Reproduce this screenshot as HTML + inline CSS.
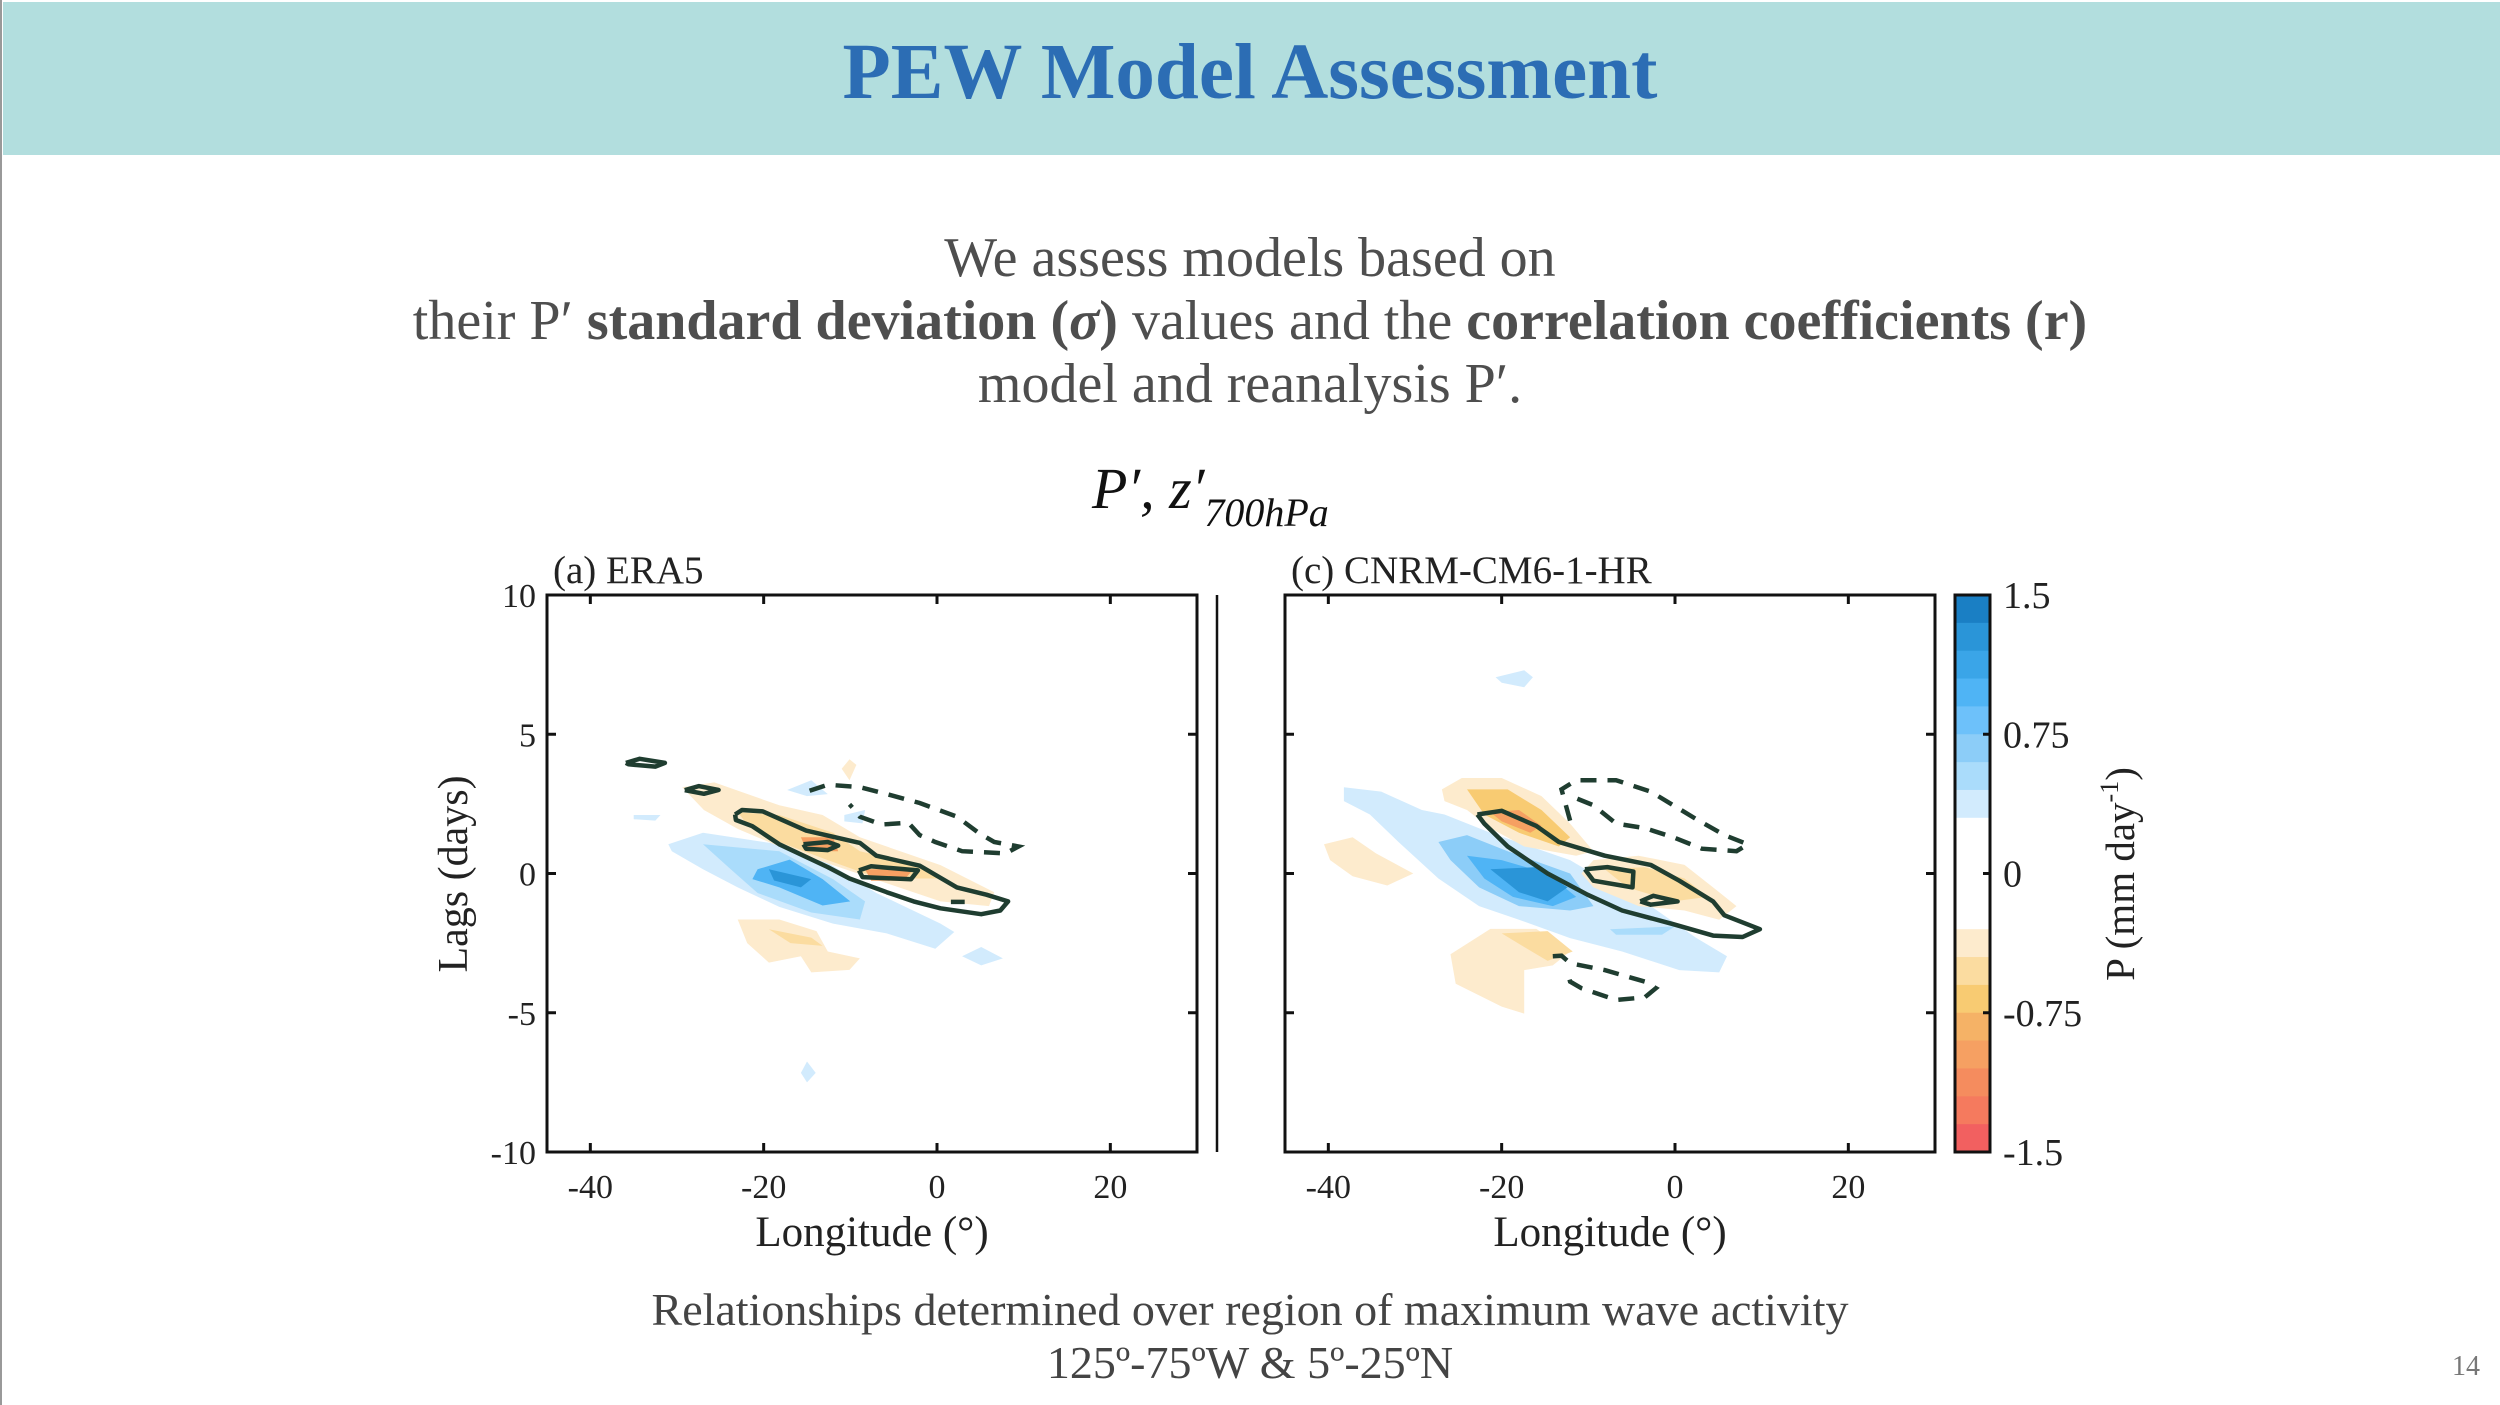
<!DOCTYPE html>
<html><head><meta charset="utf-8"><style>
html,body{margin:0;padding:0;background:#fff;}
body{width:2500px;height:1405px;position:relative;overflow:hidden;font-family:"Liberation Serif",serif;}
#hdr{position:absolute;left:3px;top:2px;width:2497px;height:153px;background:#b2dede;}
#ttl{position:absolute;left:0;width:2500px;top:28px;text-align:center;font-size:79px;font-weight:bold;color:#2c6db4;}
.bt{position:absolute;left:0;width:2500px;text-align:center;font-size:56px;color:#4e4e4e;}
#frame{position:absolute;left:0;top:0;width:2px;height:1405px;background:#999;}
</style></head><body>
<div id="frame"></div>
<div id="hdr"></div>
<div id="ttl">PEW Model Assessment</div>
<div class="bt" style="top:226px">We assess models based on</div>
<div class="bt" style="top:289px">their P′ <b>standard deviation (<i>σ</i>)</b> values and the <b>correlation coefficients (r)</b></div>
<div class="bt" style="top:352px">model and reanalysis P′.</div>
<svg id="fig" width="2500" height="1405" style="position:absolute;left:0;top:0" font-family="Liberation Serif, serif">
<text x="1092" y="508" font-size="58" font-style="italic" fill="#111">P′, z′<tspan font-size="40" dy="18">700hPa</tspan></text>
<text x="1250" y="1325" font-size="46" fill="#444" text-anchor="middle">Relationships determined over region of maximum wave activity</text>
<text x="1250" y="1378" font-size="46" fill="#444" text-anchor="middle">125º-75ºW &amp; 5º-25ºN</text>
<text x="2466" y="1375" font-size="28" fill="#777" text-anchor="middle">14</text>
<line x1="1217" y1="595" x2="1217" y2="1152" stroke="#111" stroke-width="2.5"/>
<g id="gA"></g><g id="gC"></g><g id="gCB"></g>
</svg>
<script>
const NS="http://www.w3.org/2000/svg";
const xTicks=[-40,-20,0,20];
const yTicks=[-10,-5,0,5,10];
const cbLevels=[1.5,1.35,1.2,1.05,0.9,0.75,0.6,0.45,0.3,0.15,0,-0.15,-0.3,-0.45,-0.6,-0.75,-0.9,-1.05,-1.2,-1.35,-1.5];
const cbTickLabels=["1.5","0.75","0","-0.75","-1.5"];
const cbTickValues=[1.5,0.75,0,-0.75,-1.5];
const blueCols=["#1a7fc4","#2a95d8","#3aa5e8","#4fb4f5","#6dc1fa","#8ccdf8","#aadcfb","#d2ebfd"];
const orangeCols=["#fdebcd","#fbdca0","#f8cb72","#f5b266","#f6a062","#f58c5e","#f57a5e","#f26060"];
function colorFor(v){
  if(Math.abs(v)<0.3) return "#ffffff";
  const i=Math.min(7,Math.floor((Math.abs(v)-0.3)/0.15));
  return v>0?blueCols[7-i]:orangeCols[i];
}
// Panel (a) ERA5 filled precipitation anomalies: [level, [lon,lag]...]
const fillsA=[
 [0.35,[[-31,1.05],[-27,1.46],[-18.2,1.05],[-13.2,0.5],[-7,-0.7],[0.4,-1.8],[2,-2.1],[-0.2,-2.7],[-5.8,-2.15],[-12,-1.8],[-18.2,-1.2],[-23,-0.5],[-27,0.15],[-30.6,0.8]]],
 [0.55,[[-27,1.05],[-18.2,0.8],[-12,-0.2],[-8.3,-1],[-8.9,-1.65],[-14.5,-1.4],[-20.7,-0.7],[-23.8,0.15]]],
 [0.9,[[-20.7,0.15],[-17,0.5],[-13.2,-0.2],[-10,-1],[-13.2,-1.15],[-18.2,-0.5],[-21.3,-0.2]]],
 [1.25,[[-19.4,0.15],[-14.5,-0.2],[-15.7,-0.5],[-18.8,-0.25]]],
 [0.35,[[-35,2.1],[-31.9,2.1],[-32.5,1.9],[-35,1.95]]],
 [0.4,[[-17.3,3],[-14.5,3.35],[-12.6,2.85],[-15,2.78]]],
 [0.4,[[-10.7,2.1],[-8.3,2.28],[-8.6,1.8],[-10.7,1.87]]],
 [0.35,[[2.9,-2.97],[5.1,-2.64],[7.6,-3.05],[5.1,-3.3]]],
 [0.35,[[-15.7,-7.16],[-15,-6.75],[-14,-7.16],[-15,-7.5]]],
 [-0.35,[[-11,3.76],[-10.1,4.1],[-9.3,3.9],[-10.1,3.35]]],
 [-0.35,[[-29.4,3.1],[-25.7,3.27],[-18.2,2.45],[-13.2,2.1],[-8.9,1.3],[0.4,0.3],[6.6,-0.67],[6,-1.17],[0.4,-1],[-5.8,-0.35],[-12,0.3],[-18.2,0.97],[-23,1.6],[-26.9,2.28]]],
 [-0.55,[[-23,2.2],[-18.2,2.1],[-12,1.46],[-8.9,0.8],[-2,0.3],[0.4,-0.18],[-3.3,-0.18],[-8.3,0],[-12.6,0.48],[-18.2,1.13],[-22,1.8]]],
 [-0.95,[[-15.7,1.3],[-12,1.3],[-11.4,0.8],[-15,0.8]]],
 [-0.95,[[-8.3,0.15],[-2.7,0.15],[-3.9,-0.26],[-7.6,-0.26]]],
 [-0.35,[[-23,-1.65],[-18.2,-1.65],[-13.9,-2.07],[-12.6,-2.8],[-8.9,-3.05],[-10.1,-3.46],[-14.5,-3.55],[-15.7,-2.97],[-19.4,-3.2],[-21.9,-2.5]]],
 [-0.5,[[-19.4,-2],[-14.5,-2.3],[-13.2,-2.6],[-16.9,-2.5]]]
];
const solidA=[
 [[-35.9,3.97],[-34.3,4.12],[-31.4,3.97],[-32.5,3.84],[-35.6,3.92],[-35.9,3.97]],
 [[-29.1,2.99],[-27.5,3.14],[-25.2,3.0],[-26.9,2.86],[-29.1,2.99]],
 [[-23.3,2.12],[-22.5,2.28],[-20.1,2.23],[-15.1,1.54],[-8.9,1.1],[-7,0.64],[-2,0.28],[2.3,-0.5],[5.7,-0.76],[8.2,-1],[7.3,-1.33],[5.1,-1.46],[0.4,-1.25],[-2.7,-1],[-5.8,-0.67],[-10.1,-0.18],[-12.6,0.23],[-18.2,1.05],[-21.3,1.7],[-23.2,1.92],[-23.3,2.12]],
 [[-15.4,1.05],[-12.6,1.13],[-11.4,1.0],[-12.6,0.84],[-15.1,0.89],[-15.4,1.05]],
 [[-9,0.11],[-7.6,0.26],[-2.2,0.11],[-3,-0.21],[-8.6,-0.13],[-9,0.11]],
 [[1.6,-1.02],[3.2,-1.02]]
];
const dashA=[
 [[-14.7,2.97],[-12.6,3.19],[-8.9,3.1],[-6.4,2.9],[-2,2.53],[2.3,2.04],[4.8,1.46],[6.6,1.13],[9.4,0.97],[7.9,0.72],[2.9,0.8],[-0.2,1.13],[-2,1.38],[-3.3,1.82],[-6.4,1.76],[-8.9,2.04],[-9.5,2.28],[-10.1,2.48]]
];
// Panel (c) CNRM-CM6-1-HR
const fillsC=[
 [0.35,[[-20.7,7.05],[-17.4,7.3],[-16.4,7.05],[-17.4,6.69],[-20,6.85]]],
 [0.35,[[-38.2,3.1],[-33.9,2.94],[-29.2,2.28],[-26.6,2.12],[-21.3,1.46],[-12.1,0.48],[-6.8,-0.5],[-2.8,-1.17],[2.4,-2.3],[6,-2.97],[5.1,-3.55],[0.5,-3.47],[-6.1,-2.8],[-12.1,-2.32],[-18,-1.66],[-22.6,-1.17],[-27.3,-0.18],[-31.9,1.13],[-35.2,2.12],[-38.2,2.6]]],
 [0.5,[[-7.5,-2],[0,-1.9],[-1.5,-2.2],[-6.8,-2.2]]],
 [0.6,[[-27.3,1.13],[-24,1.38],[-19.3,0.8],[-12.1,0],[-9.4,-1.17],[-12.1,-1.33],[-18,-1.17],[-22.6,-0.5],[-25.9,0.48]]],
 [0.9,[[-24,0.64],[-20,0.48],[-14.7,0],[-11.4,-0.84],[-14.1,-1.17],[-18.7,-0.84],[-22,-0.18]]],
 [1.3,[[-21.3,0.15],[-16,0.23],[-12.4,-0.5],[-14.7,-1],[-18,-0.67]]],
 [-0.35,[[-26.9,3.02],[-24.6,3.43],[-20,3.43],[-15.4,2.78],[-12.1,1.79],[-9.4,0.8],[-11.4,0.64],[-17.4,0.97],[-21.3,1.63],[-24,2.28],[-26.6,2.6]]],
 [-0.6,[[-24,3.02],[-19.3,3.02],[-15.4,2.28],[-12.1,1.3],[-13.4,0.97],[-18,1.46],[-22,2.12]]],
 [-0.95,[[-21.3,2.2],[-18,2.28],[-15.4,1.71],[-16.7,1.46],[-20,1.87]]],
 [-0.35,[[-9.4,0.48],[-4.2,0.64],[1.1,0.31],[5.1,-0.67],[7.1,-1.17],[5.1,-1.66],[1.1,-1.33],[-4.2,-1.17],[-9.4,-0.5],[-10.8,0]]],
 [-0.55,[[-8.1,0.15],[-3.5,0.23],[1.1,-0.18],[3.8,-0.84],[-0.2,-1],[-5.5,-0.5]]],
 [-0.35,[[-25.9,-2.9],[-21.3,-1.99],[-16,-1.99],[-12.1,-2.8],[-14.1,-3.3],[-17.4,-3.47],[-17.4,-5.03],[-20,-4.78],[-25.3,-3.96]]],
 [-0.55,[[-20,-2.15],[-14.7,-2.07],[-11.8,-2.8],[-14.7,-3.14],[-17.4,-2.64]]],
 [-0.35,[[-40.5,1.05],[-37.2,1.3],[-34.5,0.72],[-30.2,0],[-33.2,-0.43],[-37.2,-0.1],[-39.8,0.48]]]
];
const solidC=[
 [[-22.8,2.12],[-20,2.25],[-16,1.71],[-13.4,1.13],[-8.1,0.64],[-2.8,0.31],[0.5,-0.26],[4.4,-1],[5.7,-1.5],[9.8,-2],[7.8,-2.28],[4.4,-2.23],[-0.2,-1.82],[-6.1,-1.33],[-10.1,-0.76],[-14.7,0],[-19.3,0.97],[-22,1.79],[-22.8,2.12]],
 [[-10.4,0.15],[-7.8,0.23],[-4.8,0.07],[-4.9,-0.5],[-9.4,-0.26],[-10.4,0.15]],
 [[-4,-1],[-2.5,-0.8],[0.3,-1],[-2.8,-1.12],[-4,-1]]
];
const dashC=[
 [[-12.1,1.9],[-13.1,3.02],[-11.4,3.35],[-6.8,3.35],[-2.8,2.94],[2.4,1.96],[5.7,1.38],[8.4,1.05],[7.1,0.8],[3.1,0.89],[-0.2,1.3],[-3.5,1.63],[-6.8,1.79],[-9.4,2.45],[-11.4,2.7]],
 [[-14.1,-2.97],[-13.1,-2.95],[-12.1,-3.22],[-8.1,-3.47],[-3.5,-3.88],[-2.2,-4.12],[-3.5,-4.45],[-6.8,-4.54],[-10.8,-4.12],[-12.1,-3.88],[-12.4,-3.55]]
];
const lonMin=-45,lonMax=30,lagMin=-10,lagMax=10;
function mk(tag,attrs,parent){const e=document.createElementNS(NS,tag);for(const k in attrs)e.setAttribute(k,attrs[k]);parent.appendChild(e);return e;}
function panel(gid,x0,x1,y0,y1,fills,solid,dash,label,showY){
  const g=document.getElementById(gid);
  const sx=v=>x0+(v-lonMin)/(lonMax-lonMin)*(x1-x0);
  const sy=v=>y1-(v-lagMin)/(lagMax-lagMin)*(y1-y0);
  const pts=a=>a.map(p=>sx(p[0]).toFixed(1)+","+sy(p[1]).toFixed(1)).join(" ");
  fills.forEach(f=>{const e=mk("polygon",{points:pts(f[1]),fill:colorFor(f[0])},g);
    
    });
  solid.forEach(s=>{const e=mk("polyline",{points:pts(s),fill:"none",stroke:"#1f3d30","stroke-width":4.5,"stroke-linejoin":"round"},g);
    
    });
  dash.forEach(s=>{const e=mk("polyline",{points:pts(s),fill:"none",stroke:"#1f3d30","stroke-width":4.5,"stroke-dasharray":"16 11"},g);
    
    });
  const box=mk("rect",{x:x0,y:y0,width:x1-x0,height:y1-y0,fill:"none",stroke:"#111","stroke-width":3},g);
  
  
  xTicks.forEach(t=>{const x=sx(t);
    mk("line",{x1:x,x2:x,y1:y1,y2:y1-9,stroke:"#111","stroke-width":3},g);
    mk("line",{x1:x,x2:x,y1:y0,y2:y0+9,stroke:"#111","stroke-width":3},g);
    const tx=mk("text",{x:x,y:y1+46,"font-size":34,"text-anchor":"middle",fill:"#222"},g);tx.textContent=t;
    
    });
  yTicks.forEach(t=>{const y=sy(t);
    mk("line",{x1:x0,x2:x0+9,y1:y,y2:y,stroke:"#111","stroke-width":3},g);
    mk("line",{x1:x1,x2:x1-9,y1:y,y2:y,stroke:"#111","stroke-width":3},g);
    if(showY){const ty=mk("text",{x:x0-11,y:y+12,"font-size":34,"text-anchor":"end",fill:"#222"},g);ty.textContent=t;
      
      }});
  const xl=mk("text",{x:(x0+x1)/2,y:1246,"font-size":43,"text-anchor":"middle",fill:"#222"},g);xl.textContent="Longitude (°)";
  
  
  const pl=mk("text",{x:x0+6,y:583,"font-size":39,fill:"#222"},g);pl.textContent=label;
  
  
  if(showY){const yl=mk("text",{x:0,y:0,"font-size":42,"text-anchor":"middle",fill:"#222",transform:"translate(467,874) rotate(-90)"},g);yl.textContent="Lags (days)";
    
    }
}
panel("gA",547,1197,595,1152,fillsA,solidA,dashA,"(a) ERA5",true);
panel("gC",1285,1935,595,1152,fillsC,solidC,dashC,"(c) CNRM-CM6-1-HR",false);
// colorbar
(function(){
  const g=document.getElementById("gCB");
  const cx0=1955,cx1=1990,cy0=595,cy1=1152;
  const sy=v=>cy1-(v+1.5)/3*(cy1-cy0);
  for(let i=0;i<cbLevels.length-1;i++){
    const hi=cbLevels[i],lo=cbLevels[i+1];
    const r=mk("rect",{x:cx0,y:sy(hi),width:cx1-cx0,height:sy(lo)-sy(hi)+0.5,fill:colorFor((hi+lo)/2)},g);
    
    
  }
  const b=mk("rect",{x:cx0,y:cy0,width:cx1-cx0,height:cy1-cy0,fill:"none",stroke:"#111","stroke-width":3},g);
  
  
  cbTickValues.forEach((v,i)=>{const y=sy(v);
    mk("line",{x1:cx1,x2:cx1-7,y1:y,y2:y,stroke:"#111","stroke-width":3},g);
    const t=mk("text",{x:2003,y:y+13,"font-size":38,fill:"#222"},g);t.textContent=cbTickLabels[i];
    
    });
  const l=mk("text",{x:0,y:0,"font-size":41,"text-anchor":"middle",fill:"#222",transform:"translate(2134,874) rotate(-90)"},g);
  l.innerHTML='P (mm day<tspan font-size="26" dy="-16">-1</tspan><tspan dy="16">)</tspan>';
  
  
})();
</script>
</body></html>
